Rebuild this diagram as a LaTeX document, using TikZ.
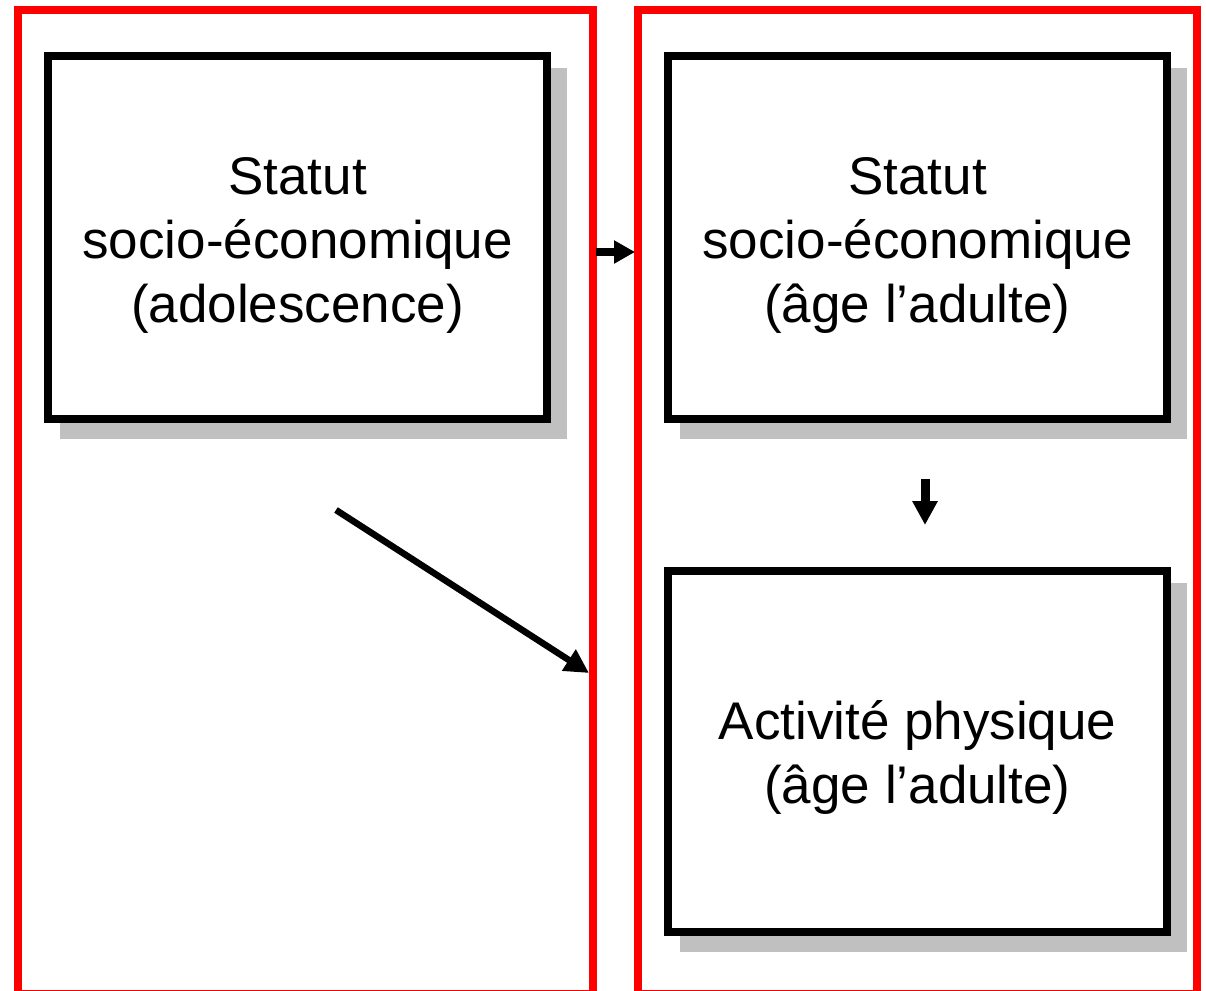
\documentclass[tikz,border=0pt]{standalone}
\usepackage{fontspec}
\setmainfont{Liberation Sans}
\usetikzlibrary{arrows.meta}
\definecolor{shadowgray}{RGB}{192,192,192}
\definecolor{framered}{RGB}{255,0,0}
\begin{document}
\begin{tikzpicture}[x=1pt,y=-1pt,
  frame/.style={draw=framered,line width=8pt},
  boxshadow/.style={fill=shadowgray},
  mainbox/.style={draw=black,fill=white,line width=8pt},
  label/.style={align=center,font=\fontsize{53}{64}\selectfont,inner sep=0pt},
  conn/.style={line width=8pt,draw=black}
]
\useasboundingbox (0,0) rectangle (1206,990);
\clip (0,0) rectangle (1206,990);
% frames
\draw[frame] (17.5,10) rectangle (592.5,994);
\draw[frame] (637.7,10) rectangle (1196.7,994);
% shadows
\fill[boxshadow] (60,68) rectangle (567,439);
\fill[boxshadow] (680,68) rectangle (1187,439);
\fill[boxshadow] (680,583) rectangle (1187,952);
% boxes
\draw[mainbox] (48,56) rectangle (547,419);
\draw[mainbox] (668,56) rectangle (1167,419);
\draw[mainbox] (668,571) rectangle (1167,932);
% texts
\node[label] (t1) at (297.5,245) {Statut\\socio-économique\\(adolescence)};
\node[label] (t2) at (917.5,245) {Statut\\socio-économique\\(âge l’adulte)};
\node[label] (t3) at (917.5,757) {Activité physique\\(âge l’adulte)};
% connectors
\coordinate (h1) at (596,252);
\coordinate (h2) at (635,252);
\coordinate (v1) at (925,479);
\coordinate (v2) at (925,525);
\coordinate (d1) at (336,510);
\coordinate (d2) at (589,673);
\draw[conn,-{Triangle[length=21pt,width=22pt]}] (h1) -- (h2);
\draw[conn,line width=9pt,-{Triangle[length=24pt,width=24pt]}] (v1) -- (v2);
\draw[conn,line width=6.5pt,-{Triangle[length=24pt,width=24pt]}] (d1) -- (d2);
\end{tikzpicture}
\end{document}
